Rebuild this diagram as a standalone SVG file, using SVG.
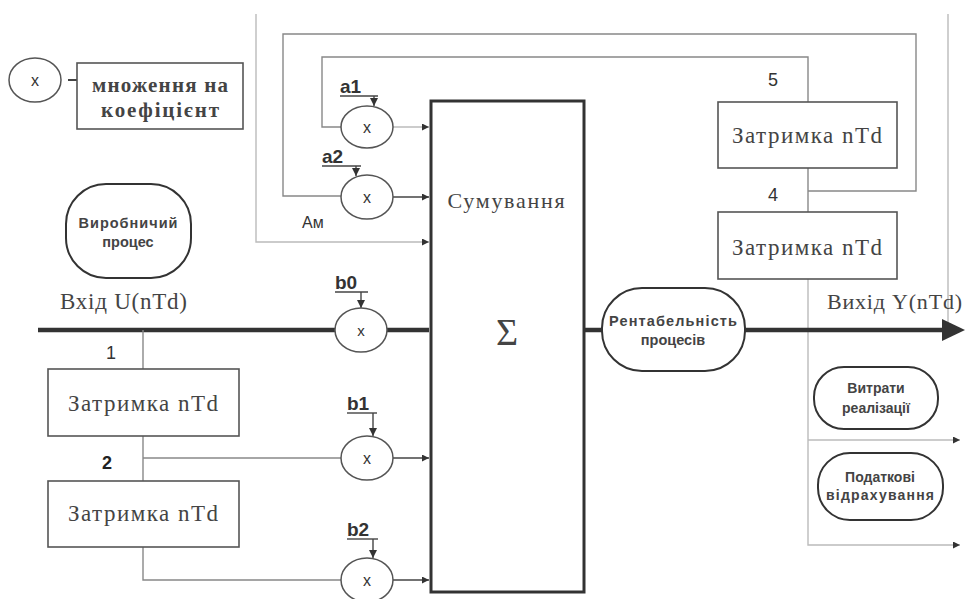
<svg xmlns="http://www.w3.org/2000/svg" width="965" height="599" viewBox="0 0 965 599">
<defs>
<style>
.bg{fill:#ffffff}
.box{fill:#fff;stroke:#555;stroke-width:1.6}
.circ{fill:#fff;stroke:#555;stroke-width:1.5}
.round{fill:#fff;stroke:#333;stroke-width:2}
.sum{fill:none;stroke:#333;stroke-width:3}
.ln{fill:none;stroke:#888;stroke-width:1.4}
.lt{fill:none;stroke:#bbb;stroke-width:1.4}
.dk{fill:none;stroke:#444;stroke-width:1.4}
.thick{fill:none;stroke:#333;stroke-width:4.5}
.serif{font-family:"Liberation Serif","DejaVu Serif",serif;fill:#444}
.sans{font-family:"Liberation Sans","DejaVu Sans",sans-serif;fill:#333}
.sb{font-family:"Liberation Sans","DejaVu Sans",sans-serif;font-weight:bold;fill:#444}
.lbl{font-family:"Liberation Sans","DejaVu Sans",sans-serif;font-weight:bold;fill:#333;font-size:19px}
</style>
<marker id="ah" viewBox="0 0 10 10" refX="10" refY="5" markerWidth="10" markerHeight="7" markerUnits="userSpaceOnUse" orient="auto">
<path d="M0,0 L10,5 L0,10 Z" fill="#333"/>
</marker>
<marker id="ahd" viewBox="0 0 10 10" refX="10" refY="5" markerWidth="8" markerHeight="10" markerUnits="userSpaceOnUse" orient="auto">
<path d="M0,0 L10,5 L0,10 Z" fill="#333"/>
</marker>
</defs>
<rect class="bg" x="0" y="0" width="965" height="599"/>

<g id="connectors">
<path class="thick" d="M38 330 H335"/>
<path class="thick" d="M387 330 H429"/>
<path class="ln" d="M143 330 V369"/>
<path class="ln" d="M143 436 V481"/>
<path class="ln" d="M143 458 H341"/>
<path class="dk" d="M393 458 H429" marker-end="url(#ah)"/>
<path class="ln" d="M143 547 V580 H341"/>
<path class="dk" d="M393 580 H429" marker-end="url(#ah)"/>
<path class="lt" d="M256 14 V242 H429" marker-end="url(#ah)"/>
<path class="ln" d="M808 191 H916 V34 H283 V196 H341"/>
<path class="dk" d="M393 197 H429" marker-end="url(#ah)"/>
<path class="ln" d="M808 102 V57 H322 V127 H341"/>
<path class="lt" d="M393 127 H429" marker-end="url(#ah)"/>
<path class="ln" d="M808 168 V212"/>
<path class="lt" d="M808 279 V545 H960" marker-end="url(#ah)"/>
<path class="lt" d="M808 440 H960" marker-end="url(#ah)"/>
<path class="lt" d="M948 14 V330"/>
<path class="thick" d="M584 330 H602"/>
<path class="thick" d="M745 330 H945"/>
<polygon points="942,319 965,330 942,341" fill="#333"/>
<path class="dk" d="M68 80 H77" style="stroke-width:2"/>
<path class="dk" d="M335 292 H368"/>
<path class="dk" d="M361 292 V308" marker-end="url(#ahd)"/>
<path class="dk" d="M347 413 H377"/>
<path class="dk" d="M373 413 V436" marker-end="url(#ahd)"/>
<path class="dk" d="M347 539 H378"/>
<path class="dk" d="M373 539 V558" marker-end="url(#ahd)"/>
<path class="dk" d="M340 96 H378"/>
<path class="dk" d="M374 96 V106" marker-end="url(#ahd)"/>
<path class="dk" d="M322 166 H361"/>
<path class="dk" d="M356 166 V176" marker-end="url(#ahd)"/>
</g>

<g id="legend-mult">
<ellipse class="circ" cx="35" cy="80" rx="26" ry="22"/>
<text class="sans" x="35" y="86" font-size="16" text-anchor="middle">x</text>
</g>
<g id="legend-text">
<rect class="box" x="77" y="63" width="166" height="66"/>
<text class="serif" x="160" y="92" font-size="21" font-weight="bold" text-anchor="middle" textLength="136" lengthAdjust="spacing">множення на</text>
<text class="serif" x="160" y="117" font-size="21" font-weight="bold" text-anchor="middle" textLength="118" lengthAdjust="spacing">коефіцієнт</text>
</g>

<g id="process">
<rect class="round" x="66" y="184" width="125" height="94" rx="40" ry="40"/>
<text class="sb" x="128" y="228" font-size="14.5" text-anchor="middle" textLength="99" lengthAdjust="spacing">Виробничий</text>
<text class="sb" x="128" y="247" font-size="14.5" text-anchor="middle">процес</text>
</g>

<g id="input-label">
<text class="serif" x="60" y="309" font-size="23" textLength="127" lengthAdjust="spacing">Вхід U(nTd)</text>
</g>

<g id="mult-a1">
<ellipse class="circ" cx="367" cy="127" rx="26" ry="21"/>
<text class="sans" x="367" y="133" font-size="16" text-anchor="middle">x</text>
<text class="lbl" x="340" y="93">a1</text>
</g>
<g id="mult-a2">
<ellipse class="circ" cx="367" cy="197" rx="26" ry="22"/>
<text class="sans" x="367" y="203" font-size="16" text-anchor="middle">x</text>
<text class="lbl" x="322" y="163">a2</text>
<text class="sans" x="302" y="228" font-size="16">Ам</text>
</g>
<g id="mult-b0">
<ellipse class="circ" cx="361" cy="330" rx="26" ry="22"/>
<text class="sans" x="361" y="336" font-size="15" text-anchor="middle">x</text>
<text class="lbl" x="335" y="289">b0</text>
</g>
<g id="mult-b1">
<ellipse class="circ" cx="367" cy="458" rx="26" ry="22"/>
<text class="sans" x="367" y="464" font-size="16" text-anchor="middle">x</text>
<text class="lbl" x="347" y="410">b1</text>
</g>
<g id="mult-b2">
<ellipse class="circ" cx="367" cy="580" rx="26" ry="22"/>
<text class="sans" x="367" y="586" font-size="16" text-anchor="middle">x</text>
<text class="lbl" x="347" y="536">b2</text>
</g>

<g id="delay1">
<rect class="box" x="48" y="369" width="191" height="67"/>
<text class="serif" x="143" y="411" font-size="23" text-anchor="middle" textLength="150" lengthAdjust="spacing">Затримка  nTd</text>
<text class="sans" x="111" y="359" font-size="18" text-anchor="middle">1</text>
</g>
<g id="delay2">
<rect class="box" x="48" y="481" width="191" height="66"/>
<text class="serif" x="143" y="521" font-size="23" text-anchor="middle" textLength="150" lengthAdjust="spacing">Затримка  nTd</text>
<text class="sb" x="107" y="469" font-size="18" text-anchor="middle" style="fill:#222">2</text>
</g>

<g id="sum">
<rect class="sum" x="431" y="101" width="153" height="491"/>
<text class="serif" x="506" y="208" font-size="22" text-anchor="middle" textLength="117" lengthAdjust="spacing">Сумування</text>
<text class="serif" x="507" y="345" font-size="38" text-anchor="middle">Σ</text>
</g>

<g id="delay5">
<rect class="box" x="718" y="102" width="179" height="66"/>
<text class="serif" x="807" y="143" font-size="23" text-anchor="middle" textLength="150" lengthAdjust="spacing">Затримка  nTd</text>
<text class="sans" x="773" y="86" font-size="18" text-anchor="middle">5</text>
</g>
<g id="delay4">
<rect class="box" x="718" y="212" width="179" height="67"/>
<text class="serif" x="807" y="255" font-size="23" text-anchor="middle" textLength="150" lengthAdjust="spacing">Затримка  nTd</text>
<text class="sans" x="773" y="201" font-size="18" text-anchor="middle">4</text>
</g>

<g id="profit">
<rect class="round" x="602" y="288" width="143" height="83" rx="40" ry="40"/>
<text class="sb" x="673" y="326" font-size="14.5" text-anchor="middle" textLength="128" lengthAdjust="spacing">Рентабельність</text>
<text class="sb" x="673" y="345" font-size="14.5" text-anchor="middle">процесів</text>
</g>

<g id="output-label">
<text class="serif" x="827" y="309" font-size="22" textLength="135" lengthAdjust="spacing">Вихід Y(nTd)</text>
</g>

<g id="costs">
<rect class="round" x="814" y="367" width="124" height="62" rx="30" ry="30"/>
<text class="sb" x="876" y="393" font-size="14" text-anchor="middle">Витрати</text>
<text class="sb" x="876" y="413" font-size="14" text-anchor="middle">реалізації</text>
</g>

<g id="tax">
<rect class="round" x="818" y="453" width="125" height="67" rx="32" ry="32"/>
<text class="sb" x="880" y="482" font-size="14" text-anchor="middle">Податкові</text>
<text class="sb" x="880" y="500" font-size="14" text-anchor="middle" textLength="108" lengthAdjust="spacing">відрахування</text>
</g>
</svg>
